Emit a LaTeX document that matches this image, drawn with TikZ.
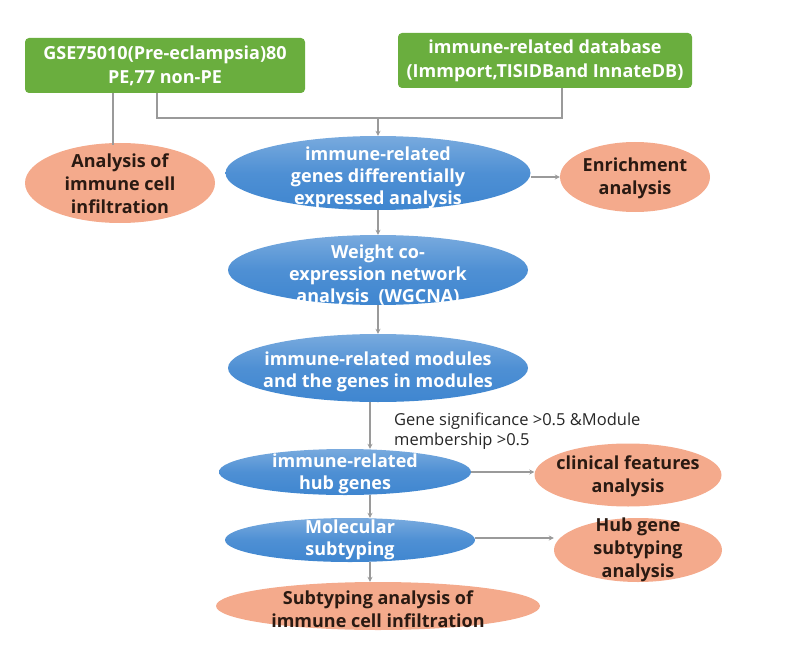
\documentclass[tikz,border=0pt]{standalone}
\usepackage{fontspec}
\setmainfont{Open Sans}
\usetikzlibrary{shapes.geometric,arrows.meta}
\definecolor{gbox}{HTML}{6AAE3E}
\definecolor{bell}{HTML}{3F86D0}
\definecolor{sell}{HTML}{F4AA8C}
\definecolor{conn}{HTML}{9A9A9A}
\definecolor{stext}{HTML}{2A1A12}
\tikzset{
  greenbox/.style={draw=none, fill=gbox, rounded corners=4pt, text=white, font=\bfseries\fontsize{18}{24}\selectfont, align=center, inner sep=0pt},
  blueell/.style={ellipse, draw=none, top color=bell!70!white, bottom color=bell, middle color=bell!92!white, inner sep=0pt},
  salell/.style={ellipse, draw=none, fill=sell, inner sep=0pt},
  bluetext/.style={text=white, font=\bfseries\fontsize{18}{22}\selectfont, align=center, inner sep=0pt},
  saltext/.style={text=stext, font=\bfseries\fontsize{18}{23}\selectfont, align=center, inner sep=0pt},
  conline/.style={draw=conn, line width=1.6pt},
  conarrow/.style={conline, -{Stealth[length=5pt,width=5pt]}},
}
\begin{document}
\begin{tikzpicture}[x=1pt,y=-1pt]
\useasboundingbox (0,0) rectangle (800,655);
% green boxes
\node[greenbox, minimum width=280, minimum height=55] (gse) at (165,65.5) {GSE75010(Pre-eclampsia)80\\PE,77 non-PE};
\node[greenbox, minimum width=294, minimum height=55] (db) at (545,60.5) {immune-related database\\(Immport,TISIDBand InnateDB)};
% ellipses
\node[salell, minimum width=190, minimum height=80, label={[saltext, yshift=-1pt]center:{Analysis of\\immune cell\\infiltration}}] (aici) at (120,183) {};
\node[blueell, minimum width=305, minimum height=74, label={[bluetext, yshift=-5pt]center:{immune-related\\genes differentially\\expressed analysis}}] (deg) at (378,173) {};
\node[salell, minimum width=150, minimum height=70, label={[saltext, yshift=-1pt]center:{Enrichment\\analysis}}] (enr) at (635,177) {};
\node[blueell, minimum width=300, minimum height=70, label={[bluetext, yshift=-6pt]center:{Weight co-\\expression network\\analysis\ \ (WGCNA)}}] (wgcna) at (378,270) {};
\node[blueell, minimum width=300, minimum height=68, label={[bluetext, yshift=-4pt]center:{immune-related modules\\and the genes in modules}}] (mod) at (378,368) {};
\node[blueell, minimum width=252, minimum height=46, label={[bluetext, yshift=-2pt]center:{immune-related\\hub genes}}] (hub) at (345,472) {};
\node[salell, minimum width=187, minimum height=63, label={[saltext, yshift=-1pt]center:{clinical features\\analysis}}] (clin) at (628,475) {};
\node[blueell, minimum width=250, minimum height=44, label={[bluetext]center:{Molecular\\subtyping}}] (mol) at (350,540) {};
\node[salell, minimum width=168, minimum height=64, label={[saltext]center:{Hub gene\\subtyping\\analysis}}] (hgs) at (638,550) {};
\node[salell, minimum width=324, minimum height=48, label={[saltext, yshift=-3pt]center:{Subtyping analysis of\\immune cell infiltration}}] (sub) at (378,606) {};
% label
\node[anchor=north west, align=left, inner sep=0pt, font=\fontsize{16.5}{20}\selectfont, text=black!85] (gs) at (394,413) {Gene significance >0.5 \&Module\\membership >0.5};
% connectors
\coordinate (j1) at (157,118);
\coordinate (j2) at (562,118);
\coordinate (jm) at (378,118);
\coordinate (ja) at (113,145);
\coordinate (v1) at (370,0);
\draw[conline] (gse.south -| j1) -- (j1) -- (j2) -- (db.south -| j2);
\draw[conarrow] (jm) -- (deg.north);
\draw[conline] (gse.south -| ja) -- (ja);
\draw[conarrow] (deg.east |- enr.west) -- (enr.west);
\draw[conarrow] (deg.south) -- (wgcna.north);
\draw[conarrow] (wgcna.south) -- (wgcna.south |- mod.north);
\draw[conarrow] (mod.south -| v1) -- (hub.north -| v1);
\draw[conarrow] (hub.east) -- (hub.east -| clin.west);
\draw[conarrow] (hub.south -| v1) -- (mol.north -| v1);
\draw[conarrow] ([yshift=2pt]mol.east) -- ([yshift=2pt]mol.east -| hgs.west);
\draw[conarrow] (mol.south -| v1) -- (sub.north -| v1);
\end{tikzpicture}
\end{document}
